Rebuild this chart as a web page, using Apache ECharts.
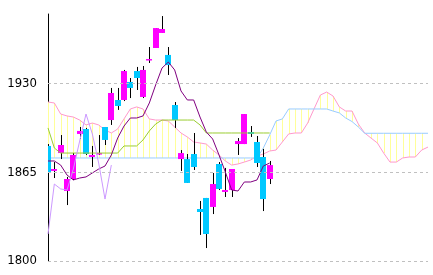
<!DOCTYPE html>
<html>
<head>
<meta charset="utf-8">
<script src="https://cdn.jsdelivr.net/npm/echarts@6/dist/echarts.min.js"></script>
<style>
html,body{margin:0;padding:0;background:#fff;}
#chart{width:433px;height:275px;}
</style>
</head>
<body>
<div id="chart"></div>
<script>
const categories = ['1','2','3','4','5','6','7','8','9','10','11','12','13','14','15','16','17','18','19','20',
  '21','22','23','24','25','26','27','28','29','30','31','32','33','34','35','36','37','38','39','40',
  '41','42','43','44','45','46','47','48','49','50','51','52','53','54','55','56','57','58','59','60','61'];

const opens  = [1884.3,1866.0,1879.1,1851.3,1860.1,1893.1,1896.7,1876.2,1878.9,1898.2,1903.3,1918.0,1918.0,1931.2,1939.2,1920.2,1947.3,1956.1,1967.1,1951.0,1914.3,1874.7,1874.7,1878.4,1838.1,1846.2,1839.6,1871.1,1850.6,1852.0,1885.7,1885.7,1894.5,1887.2,1876.2,1860.1];
const closes = [1864.5,1867.4,1885.0,1860.1,1877.7,1895.3,1878.4,1877.7,1879.1,1888.7,1923.1,1913.6,1939.2,1926.8,1934.1,1940.0,1948.0,1970.7,1970.0,1943.6,1903.3,1879.1,1857.2,1868.9,1835.9,1819.8,1856.4,1852.8,1852.0,1867.4,1887.9,1907.7,1893.1,1871.8,1845.4,1870.3];
const lows   = [1863.0,1860.8,1874.7,1841.0,1859.4,1889.4,1877.7,1868.9,1877.7,1885.0,1899.7,1910.7,1917.2,1919.4,1925.3,1919.4,1945.1,1956.1,1967.1,1936.3,1897.5,1866.0,1857.2,1866.7,1819.1,1809.5,1834.4,1852.0,1846.9,1846.9,1877.7,1885.7,1890.9,1868.9,1836.6,1856.4];
const highs  = [1885.7,1872.5,1892.3,1861.6,1879.1,1898.2,1897.5,1884.3,1892.3,1898.2,1926.8,1926.8,1940.0,1934.1,1942.2,1942.9,1956.8,1970.7,1979.5,1956.8,1916.5,1881.3,1878.4,1893.8,1844.0,1846.2,1864.5,1872.5,1868.2,1867.4,1890.1,1907.7,1898.9,1891.6,1882.1,1873.3];

const tenkan = [1873.3,1873.3,1870.3,1863.0,1859.4,1860.8,1861.6,1864.5,1867.4,1869.6,1877.7,1890.1,1898.9,1904.8,1904.8,1906.3,1915.8,1929.0,1941.4,1945.8,1940.0,1924.6,1918.0,1918.0,1905.5,1894.5,1889.4,1877.7,1865.2,1852.0,1851.3,1857.9,1857.9,1859.4,1869.6,1871.8];
const kijun  = [1897.5,1882.8,1879.1,1879.1,1879.1,1879.1,1879.1,1879.1,1879.1,1879.1,1879.1,1879.1,1884.3,1884.3,1884.3,1888.7,1895.3,1900.4,1903.3,1903.3,1903.3,1903.3,1903.3,1903.3,1899.7,1893.8,1893.8,1893.8,1893.8,1893.8,1893.8,1893.8,1893.8,1893.8,1893.8,1893.8];
const spanA  = [1916.5,1915.8,1907.7,1906.3,1905.5,1903.3,1899.7,1901.1,1899.7,1896.0,1893.8,1896.7,1904.1,1911.4,1912.9,1911.4,1904.1,1903.3,1903.3,1902.6,1898.2,1893.8,1890.9,1887.2,1886.5,1885.7,1881.3,1877.7,1873.3,1870.3,1871.1,1872.5,1874.0,1876.9,1878.4,1880.6,1881.3,1887.2,1893.1,1893.8,1893.8,1901.1,1911.4,1921.6,1923.8,1920.9,1912.9,1909.9,1909.9,1900.4,1893.8,1890.1,1886.5,1879.1,1872.5,1872.5,1875.5,1876.2,1876.2,1881.3,1883.5];
const spanB  = [1875.5,1875.5,1875.5,1875.5,1875.5,1875.5,1875.5,1875.5,1875.5,1875.5,1875.5,1875.5,1875.5,1875.5,1875.5,1875.5,1875.5,1875.5,1875.5,1875.5,1875.5,1875.5,1875.5,1875.5,1875.5,1875.5,1875.5,1875.5,1875.5,1875.5,1875.5,1875.5,1875.5,1875.5,1882.8,1892.3,1902.6,1904.1,1911.4,1911.4,1911.4,1911.4,1911.4,1911.4,1911.4,1909.9,1908.5,1904.8,1902.2,1898.2,1893.6,1893.6,1893.6,1893.6,1893.6,1893.6,1893.6,1893.6,1893.6,1893.6,1893.6];
const chikou = [1819.8,1856.4,1852.8,1852.0,1867.4,1887.9,1907.7,1893.1,1871.8,1845.4,1870.3];

const tickValues = [1800, 1865, 1930];
const tickLabels = ['1800', '1865', '1930'];

const candleData = opens.map((o, i) => [i, o, closes[i], lows[i], highs[i]]);
const cloudData = spanA.map((a, i) => [i, a, spanB[i]]);

const chart = echarts.init(document.getElementById('chart'), null, {renderer: 'canvas'});
chart.setOption({
  animation: false,
  backgroundColor: '#ffffff',
  grid: {left: 48, right: 5, top: 14, bottom: 14, containLabel: false},
  xAxis: {
    type: 'category', data: categories, boundaryGap: false,
    axisLine: {show: false}, axisTick: {show: false}, axisLabel: {show: false}, splitLine: {show: false}
  },
  yAxis: {
    type: 'value', min: 1800, max: 1981, scale: true,
    axisLine: {show: true, lineStyle: {color: '#000', width: 1}},
    axisTick: {show: false}, axisLabel: {show: false}, splitLine: {show: false}
  },
  series: [
    {
      type: 'custom', name: 'cloud', z: 1, clip: true, silent: true,
      data: cloudData,
      renderItem: function (params, api) {
        const p1 = api.coord([api.value(0), api.value(1)]);
        const p2 = api.coord([api.value(0), api.value(2)]);
        const x = Math.round(p1[0]) + 0.5;
        return {type: 'line', shape: {x1: x, y1: p1[1], x2: x, y2: p2[1]},
          style: {stroke: '#ffff99', lineWidth: 1}};
      },
      markLine: {
        silent: true, symbol: ['none', 'none'], animation: false,
        lineStyle: {color: '#c0c0c0', type: [3, 3], width: 1},
        label: {
          show: true, position: 'start', distance: 11, color: '#000',
          fontFamily: "'Liberation Sans Narrow', 'DejaVu Sans Condensed', sans-serif", fontSize: 13,
          formatter: function (p) { return tickLabels[tickValues.indexOf(p.value)]; }
        },
        emphasis: {disabled: true},
        data: tickValues.map(v => ({yAxis: v}))
      }
    },
    {type: 'line', name: 'Senkou A', z: 2, data: spanA, symbol: 'none', silent: true,
      lineStyle: {color: '#ff99cc', width: 1}},
    {type: 'line', name: 'Senkou B', z: 2, data: spanB, symbol: 'none', silent: true,
      lineStyle: {color: '#99ccff', width: 1}},
    {
      type: 'custom', name: 'candles', z: 3, clip: true, silent: true,
      data: candleData,
      renderItem: function (params, api) {
        const i = api.value(0), o = api.value(1), c = api.value(2), l = api.value(3), h = api.value(4);
        const pO = api.coord([i, o]), pC = api.coord([i, c]), pL = api.coord([i, l]), pH = api.coord([i, h]);
        const left = Math.round(pO[0] - 3);
        const wx = left + 3.5;
        const top = Math.min(pO[1], pC[1]);
        const hgt = Math.max(Math.abs(pO[1] - pC[1]), 1.5);
        const up = c >= o;
        return {type: 'group', children: [
          {type: 'line', shape: {x1: wx, y1: pH[1], x2: wx, y2: pL[1]}, style: {stroke: '#000', lineWidth: 1}},
          {type: 'rect', shape: {x: left, y: top, width: 6, height: hgt},
            style: {fill: up ? '#ff00ff' : '#00c8ff', stroke: null}}
        ]};
      }
    },
    {type: 'line', name: 'Kijun', z: 4, data: kijun, symbol: 'none', silent: true,
      lineStyle: {color: '#9acd32', width: 1}},
    {type: 'line', name: 'Tenkan', z: 4, data: tenkan, symbol: 'none', silent: true,
      lineStyle: {color: '#800080', width: 1}},
    {type: 'line', name: 'Chikou', z: 4, data: chikou, symbol: 'none', silent: true,
      lineStyle: {color: '#cc99ff', width: 1}}
  ]
});
</script>
</body>
</html>
